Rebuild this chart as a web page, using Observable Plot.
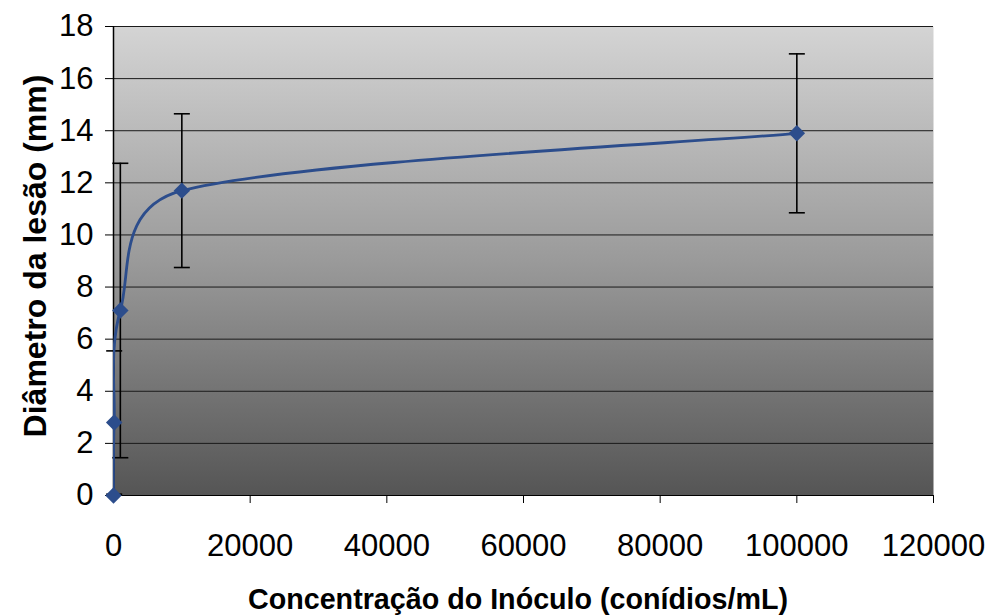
<!DOCTYPE html>
<html><head><meta charset="utf-8">
<script src="https://cdn.jsdelivr.net/npm/d3@7"></script>
<script src="https://cdn.jsdelivr.net/npm/@observablehq/plot@0.6"></script>
<style>
  html,body{margin:0;padding:0;background:#fff;}
  #chart{width:993px;height:615px;}
</style>
</head><body><div id="chart"></div>
<script>
// Data
const concentrations = [0, 100, 1000, 10000, 100000];   // conídios/mL
const diameters      = [0, 2.8, 7.1, 11.7, 13.9];       // mm
const errors         = [0, 2.75, 5.65, 2.95, 3.05];     // ± mm
const xTicks = [0, 20000, 40000, 60000, 80000, 100000, 120000];
const yTicks = [0, 2, 4, 6, 8, 10, 12, 14, 16, 18];
const xTitle = "Concentração do Inóculo (conídios/mL)";
const yTitle = "Diâmetro da lesão (mm)";

const data = concentrations.map((x, i) => ({
  x, y: diameters[i], lo: diameters[i] - errors[i], hi: diameters[i] + errors[i], e: errors[i]
}));
const withErr = data.filter(d => d.e > 0);

// Spreadsheet-style smoothed line: Bezier segments with tension 1/6,
// control vectors limited to half of each segment's length.
function smoothCurve(context) {
  let pts;
  return {
    areaStart() {}, areaEnd() {},
    lineStart() { pts = []; },
    point(x, y) { pts.push([+x, +y]); },
    lineEnd() {
      const n = pts.length;
      if (!n) return;
      context.moveTo(pts[0][0], pts[0][1]);
      for (let i = 0; i < n - 1; i++) {
        const p0 = pts[Math.max(i - 1, 0)], p1 = pts[i], p2 = pts[i + 1], p3 = pts[Math.min(i + 2, n - 1)];
        const d12 = Math.hypot(p2[0] - p1[0], p2[1] - p1[1]);
        const d02 = Math.hypot(p2[0] - p0[0], p2[1] - p0[1]);
        const d13 = Math.hypot(p3[0] - p1[0], p3[1] - p1[1]);
        let f1 = 1 / 6, f2 = 1 / 6;
        if (d02 / 6 > d12 / 2) f1 = d12 / (2 * d02);
        if (d13 / 6 > d12 / 2) f2 = d12 / (2 * d13);
        context.bezierCurveTo(
          p1[0] + f1 * (p2[0] - p0[0]), p1[1] + f1 * (p2[1] - p0[1]),
          p2[0] - f2 * (p3[0] - p1[0]), p2[1] - f2 * (p3[1] - p1[1]),
          p2[0], p2[1]);
      }
    }
  };
}

const capSymbol = {draw(ctx) { ctx.moveTo(-8, 0); ctx.lineTo(8, 0); }};
const blue = "#2c4d8c";
const font = "'Liberation Sans', Arial, sans-serif";

const chart = Plot.plot({
  width: 993, height: 615,
  marginLeft: 113, marginRight: 60, marginTop: 26, marginBottom: 120,
  style: {fontFamily: font, fontSize: "31px", color: "#000", background: "#fff"},
  x: {domain: [0, 120000], ticks: xTicks},
  y: {domain: [0, 18], ticks: yTicks},
  marks: [
    Plot.frame({fill: "url(#bggrad)", stroke: "none"}),
    Plot.gridY(yTicks, {stroke: "#1a1a1a", strokeOpacity: 1, strokeWidth: 1}),
    Plot.axisY({ticks: yTicks, tickSize: 8, tickPadding: 12, fontSize: 31, label: null, tickFormat: d => String(d), stroke: "#000"}),
    Plot.axisX({ticks: xTicks, tickSize: 8, tickPadding: 30, fontSize: 31, label: null, tickFormat: d => String(d), stroke: "#000"}),
    Plot.ruleX([0], {stroke: "#000", strokeWidth: 1.5}),
    Plot.ruleY([0], {stroke: "#000", strokeWidth: 1}),
    Plot.ruleX(withErr, {x: "x", y1: "lo", y2: "hi", stroke: "#000", strokeWidth: 1.6}),
    Plot.dot(withErr, {x: "x", y: "hi", symbol: capSymbol, stroke: "#000", strokeWidth: 1.6, fill: "none"}),
    Plot.dot(withErr, {x: "x", y: "lo", symbol: capSymbol, stroke: "#000", strokeWidth: 1.6, fill: "none"}),
    Plot.line(data, {x: "x", y: "y", curve: smoothCurve, stroke: blue, strokeWidth: 2.8, clip: true}),
    Plot.dot(data, {x: "x", y: "y", symbol: "diamond2", r: 7.4, fill: blue, stroke: "none"})
  ]
});

// gradient background definition
const ns = "http://www.w3.org/2000/svg";
const defs = document.createElementNS(ns, "defs");
const grad = document.createElementNS(ns, "linearGradient");
grad.setAttribute("id", "bggrad");
grad.setAttribute("x1", "0"); grad.setAttribute("y1", "0");
grad.setAttribute("x2", "0"); grad.setAttribute("y2", "1");
[["0%", "#d4d4d4"], ["50%", "#9a9a9a"], ["100%", "#555555"]].forEach(([o, c]) => {
  const s = document.createElementNS(ns, "stop");
  s.setAttribute("offset", o); s.setAttribute("stop-color", c);
  grad.appendChild(s);
});
defs.appendChild(grad);
chart.insertBefore(defs, chart.firstChild);

// axis titles
const xt = document.createElementNS(ns, "text");
xt.setAttribute("x", 518); xt.setAttribute("y", 609);
xt.setAttribute("text-anchor", "middle");
xt.setAttribute("font-weight", "bold");
xt.setAttribute("font-size", "30");
xt.setAttribute("font-family", font);
xt.setAttribute("textLength", "540");
xt.setAttribute("lengthAdjust", "spacingAndGlyphs");
xt.textContent = xTitle;
chart.appendChild(xt);

const yt = document.createElementNS(ns, "text");
yt.setAttribute("transform", "translate(46,256) rotate(-90)");
yt.setAttribute("text-anchor", "middle");
yt.setAttribute("font-weight", "bold");
yt.setAttribute("font-size", "32");
yt.setAttribute("font-family", font);
yt.textContent = yTitle;
chart.appendChild(yt);

document.getElementById("chart").appendChild(chart);
</script>
</body></html>
